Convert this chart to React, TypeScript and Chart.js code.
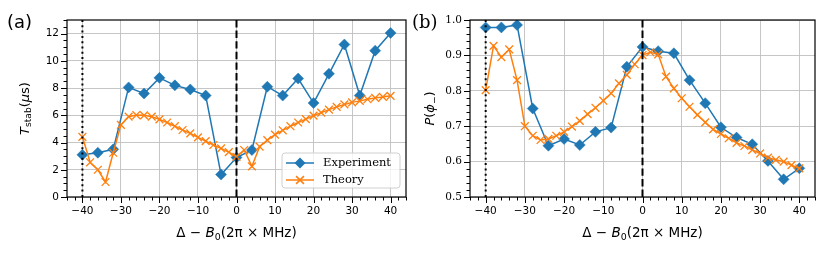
import React, { useEffect, useRef } from 'react';
import { Chart, registerables } from 'chart.js';
Chart.register(...registerables);

// ---------------- data ----------------
const expX = [-40, -36, -32, -28, -24, -20, -16, -12, -8, -4, 0, 4, 8, 12, 16, 20, 24, 28, 32, 36, 40];
const theoryX = [-40, -38, -36, -34, -32, -30, -28, -26, -24, -22, -20, -18, -16, -14, -12, -10, -8, -6, -4, -2, 0,
  2, 4, 6, 8, 10, 12, 14, 16, 18, 20, 22, 24, 26, 28, 30, 32, 34, 36, 38, 40];

const expT = [3.1, 3.25, 3.5, 8.05, 7.6, 8.75, 8.2, 7.9, 7.45, 1.65, 2.9, 3.45, 8.1, 7.45, 8.7, 6.9, 9.05, 11.2, 7.45, 10.75, 12.05];
const theoryT = [4.42, 2.55, 2.0, 1.1, 3.25, 5.3, 5.9, 6.02, 6.0, 5.9, 5.7, 5.47, 5.2, 4.92, 4.67, 4.38, 4.1, 3.82, 3.57, 3.3, 2.95,
  3.45, 2.25, 3.7, 4.18, 4.58, 4.9, 5.2, 5.47, 5.72, 5.98, 6.2, 6.42, 6.62, 6.8, 6.95, 7.06, 7.18, 7.28, 7.35, 7.43];

const expP = [0.979, 0.979, 0.986, 0.75, 0.645, 0.664, 0.647, 0.684, 0.696, 0.868, 0.924, 0.912, 0.906, 0.83, 0.765, 0.697, 0.668, 0.649, 0.602, 0.55, 0.581];
const theoryP = [0.802, 0.927, 0.895, 0.917, 0.83, 0.70, 0.673, 0.661, 0.664, 0.673, 0.684, 0.699, 0.715, 0.734, 0.752, 0.772, 0.793, 0.821, 0.845, 0.875, 0.901,
  0.909, 0.903, 0.84, 0.807, 0.779, 0.755, 0.732, 0.711, 0.691, 0.678, 0.666, 0.653, 0.644, 0.633, 0.623, 0.611, 0.605, 0.6, 0.59, 0.581];

const xMajorTicks = [-40, -30, -20, -10, 0, 10, 20, 30, 40];
const yMajorTicksT = [0, 2, 4, 6, 8, 10, 12];
const yMajorTicksP = [0.5, 0.6, 0.7, 0.8, 0.9, 1.0];
const vLines = [
  { x: -40, dash: [2, 3.3] },
  { x: 0, dash: [7.4, 3.2] },
];
const seriesLabels = ['Experiment', 'Theory'];

const BLUE = '#1f77b4';
const ORANGE = '#ff7f0e';
const SANS = '"DejaVu Sans", sans-serif';
const SERIF = '"DejaVu Serif", serif';

type Seg = { t: string; it?: boolean; sub?: boolean };

function richWidth(ctx: CanvasRenderingContext2D, segs: Seg[], size: number, fam: string) {
  let w = 0;
  for (const s of segs) {
    ctx.font = `${s.it ? 'italic ' : ''}${s.sub ? size * 0.7 : size}px ${fam}`;
    w += ctx.measureText(s.t).width;
  }
  return w;
}
function drawRich(ctx: CanvasRenderingContext2D, segs: Seg[], cx: number, baseY: number, size: number, fam: string) {
  const w = richWidth(ctx, segs, size, fam);
  let x = cx - w / 2;
  ctx.textBaseline = 'alphabetic';
  ctx.textAlign = 'left';
  for (const s of segs) {
    ctx.font = `${s.it ? 'italic ' : ''}${s.sub ? size * 0.7 : size}px ${fam}`;
    ctx.fillText(s.t, x, baseY + (s.sub ? size * 0.22 : 0));
    x += ctx.measureText(s.t).width;
  }
}

const fmt = (v: number, dec: number) => (dec ? v.toFixed(dec) : String(Math.round(v))).replace('-', '\u2212');

type Spec = {
  yMin: number; yMax: number; yTicks: number[]; yMinorStep: number; yDec: number; yFont: string;
  expY: number[]; theoryY: number[];
  panel: string; panelFont: string; panelX: number;
  yTitle: Seg[]; yTitleX: number;
  left: number; right: number; legend: boolean;
};

const xTitle: Seg[] = [{ t: 'Δ − ' }, { t: 'B', it: true }, { t: '0', sub: true }, { t: '(2π × MHz)' }];

function makeChart(canvas: HTMLCanvasElement, sp: Spec) {
  const overlay = {
    id: 'overlay',
    afterDatasetsDraw(chart: any) {
      const ctx: CanvasRenderingContext2D = chart.ctx;
      const a = chart.chartArea;
      const xs = chart.scales.x;
      const ys = chart.scales.y;
      ctx.save();
      // vertical reference lines
      ctx.beginPath();
      ctx.rect(a.left, a.top, a.right - a.left, a.bottom - a.top);
      ctx.clip();
      for (const v of vLines) {
        const px = xs.getPixelForValue(v.x);
        ctx.beginPath();
        ctx.setLineDash(v.dash);
        ctx.strokeStyle = '#000';
        ctx.lineWidth = 2;
        ctx.moveTo(px, a.top);
        ctx.lineTo(px, a.bottom);
        ctx.stroke();
      }
      ctx.restore();
      ctx.save();
      ctx.setLineDash([]);
      ctx.strokeStyle = '#000';
      // ticks
      ctx.lineWidth = 1;
      const minorX: number[] = [];
      for (let v = -44; v <= 44; v += 2) minorX.push(v);
      for (const v of minorX) {
        const px = Math.round(xs.getPixelForValue(v)) + 0.5;
        const len = xMajorTicks.includes(v) ? 6 : 3.5;
        ctx.beginPath(); ctx.moveTo(px, a.bottom); ctx.lineTo(px, a.bottom + len); ctx.stroke();
      }
      const n = Math.round((sp.yMax - sp.yMin) / sp.yMinorStep);
      for (let i = 0; i <= n; i++) {
        const v = sp.yMin + i * sp.yMinorStep;
        const major = sp.yTicks.some(t => Math.abs(t - v) < 1e-9);
        const py = Math.round(ys.getPixelForValue(v)) + 0.5;
        const len = major ? 6 : 3.5;
        ctx.beginPath(); ctx.moveTo(a.left, py); ctx.lineTo(a.left - len, py); ctx.stroke();
      }
      // spines
      ctx.lineWidth = 1.2;
      ctx.strokeRect(a.left, a.top, a.right - a.left, a.bottom - a.top);
      // axis titles
      ctx.fillStyle = '#000';
      drawRich(ctx, xTitle, (a.left + a.right) / 2, 237, 13.5, SANS);
      ctx.save();
      ctx.translate(sp.yTitleX, (a.top + a.bottom) / 2);
      ctx.rotate(-Math.PI / 2);
      drawRich(ctx, sp.yTitle, 0, 0, 13, SANS);
      ctx.restore();
      // panel label
      ctx.font = sp.panelFont;
      ctx.textAlign = 'left';
      ctx.textBaseline = 'alphabetic';
      ctx.fillText(sp.panel, sp.panelX, 28);
      // legend
      if (sp.legend) {
        const bx = 282, by = 153, bw = 118, bh = 35, r = 3;
        ctx.beginPath();
        ctx.moveTo(bx + r, by);
        ctx.arcTo(bx + bw, by, bx + bw, by + bh, r);
        ctx.arcTo(bx + bw, by + bh, bx, by + bh, r);
        ctx.arcTo(bx, by + bh, bx, by, r);
        ctx.arcTo(bx, by, bx + bw, by, r);
        ctx.closePath();
        ctx.fillStyle = 'rgba(255,255,255,0.8)';
        ctx.fill();
        ctx.strokeStyle = '#d0d0d0';
        ctx.lineWidth = 1;
        ctx.stroke();
        const rows = [
          { y: 163, c: BLUE, kind: 'd', label: seriesLabels[0] },
          { y: 180, c: ORANGE, kind: 'x', label: seriesLabels[1] },
        ];
        for (const row of rows) {
          ctx.strokeStyle = row.c;
          ctx.fillStyle = row.c;
          ctx.lineWidth = 1.5;
          ctx.beginPath(); ctx.moveTo(286, row.y); ctx.lineTo(314, row.y); ctx.stroke();
          const cx = 300;
          if (row.kind === 'd') {
            ctx.beginPath();
            ctx.moveTo(cx, row.y - 5.5); ctx.lineTo(cx + 5.5, row.y); ctx.lineTo(cx, row.y + 5.5); ctx.lineTo(cx - 5.5, row.y);
            ctx.closePath(); ctx.fill();
          } else {
            const d = 3.9;
            ctx.beginPath();
            ctx.moveTo(cx - d, row.y - d); ctx.lineTo(cx + d, row.y + d);
            ctx.moveTo(cx + d, row.y - d); ctx.lineTo(cx - d, row.y + d);
            ctx.stroke();
          }
          ctx.fillStyle = '#000';
          ctx.font = `11.5px ${SERIF}`;
          ctx.textBaseline = 'middle';
          ctx.fillText(row.label, 323, row.y + 0.5);
        }
      }
      ctx.restore();
    },
  };

  return new Chart(canvas, {
    type: 'line',
    data: {
      datasets: [
        {
          label: seriesLabels[0],
          data: expX.map((x, i) => ({ x, y: sp.expY[i] })),
          borderColor: BLUE, backgroundColor: BLUE, borderWidth: 1.5,
          pointStyle: 'rectRot', pointRadius: 5.5, pointBorderWidth: 0.5,
          pointBackgroundColor: BLUE, pointBorderColor: BLUE, order: 1,
        },
        {
          label: seriesLabels[1],
          data: theoryX.map((x, i) => ({ x, y: sp.theoryY[i] })),
          borderColor: ORANGE, backgroundColor: ORANGE, borderWidth: 1.5,
          pointStyle: 'crossRot', pointRadius: 5.5, pointBorderWidth: 1.3,
          pointBorderColor: ORANGE, order: 0,
        },
      ],
    },
    options: {
      animation: false,
      responsive: false,
      devicePixelRatio: 1,
      layout: { padding: { top: 20, right: sp.right, bottom: 0, left: 0 } },
      plugins: { legend: { display: false }, title: { display: false }, tooltip: { enabled: false } },
      elements: { line: { tension: 0 } },
      scales: {
        x: {
          type: 'linear', min: -44, max: 44,
          afterBuildTicks: (s: any) => { s.ticks = xMajorTicks.map(v => ({ value: v })); },
          afterFit: (s: any) => { s.height = 62; },
          ticks: {
            autoSkip: false, maxRotation: 0, padding: 8, color: '#000',
            font: { family: SANS, size: 10.5 },
            callback: (v: any) => fmt(Number(v), 0),
          },
          grid: { color: '#c0c0c0', lineWidth: 0.9, drawTicks: false },
          border: { display: false },
        },
        y: {
          type: 'linear', min: sp.yMin, max: sp.yMax,
          afterBuildTicks: (s: any) => { s.ticks = sp.yTicks.map(v => ({ value: v })); },
          afterFit: (s: any) => { s.width = sp.left; },
          ticks: {
            autoSkip: false, padding: 8, color: '#000',
            font: { family: sp.yFont, size: 10.5 },
            callback: (v: any) => fmt(Number(v), sp.yDec),
          },
          grid: { color: '#c0c0c0', lineWidth: 0.9, drawTicks: false },
          border: { display: false },
        },
      },
    },
    plugins: [overlay],
  } as any);
}

export default function App() {
  const r1 = useRef<HTMLCanvasElement>(null);
  const r2 = useRef<HTMLCanvasElement>(null);
  useEffect(() => {
    const c1 = makeChart(r1.current!, {
      yMin: 0, yMax: 13, yTicks: yMajorTicksT, yMinorStep: 0.5, yDec: 0, yFont: SANS,
      expY: expT, theoryY: theoryT,
      panel: '(a)', panelFont: `18px ${SANS}`, panelX: 7,
      yTitle: [{ t: 'T', it: true }, { t: 'stab', sub: true }, { t: '(' }, { t: 'μ', it: true }, { t: 's)' }],
      yTitleX: 28.5, left: 67, right: 9, legend: true,
    });
    const c2 = makeChart(r2.current!, {
      yMin: 0.5, yMax: 1.0, yTicks: yMajorTicksP, yMinorStep: 0.02, yDec: 1, yFont: SERIF,
      expY: expP, theoryY: theoryP,
      panel: '(b)', panelFont: `18px ${SERIF}`, panelX: 7,
      yTitle: [{ t: 'P', it: true }, { t: '(' }, { t: 'ϕ', it: true }, { t: '−', sub: true }, { t: ')' }],
      yTitleX: 29, left: 65, right: 15, legend: false,
    });
    return () => { c1.destroy(); c2.destroy(); };
  }, []);
  return (
    <div style={{ position: 'fixed', left: 0, top: 0, width: 830, height: 259, background: '#fff' }}>
      <canvas ref={r1} width={415} height={259} style={{ position: 'absolute', left: 0, top: 0 }} />
      <canvas ref={r2} width={425} height={259} style={{ position: 'absolute', left: 405, top: 0 }} />
    </div>
  );
}
